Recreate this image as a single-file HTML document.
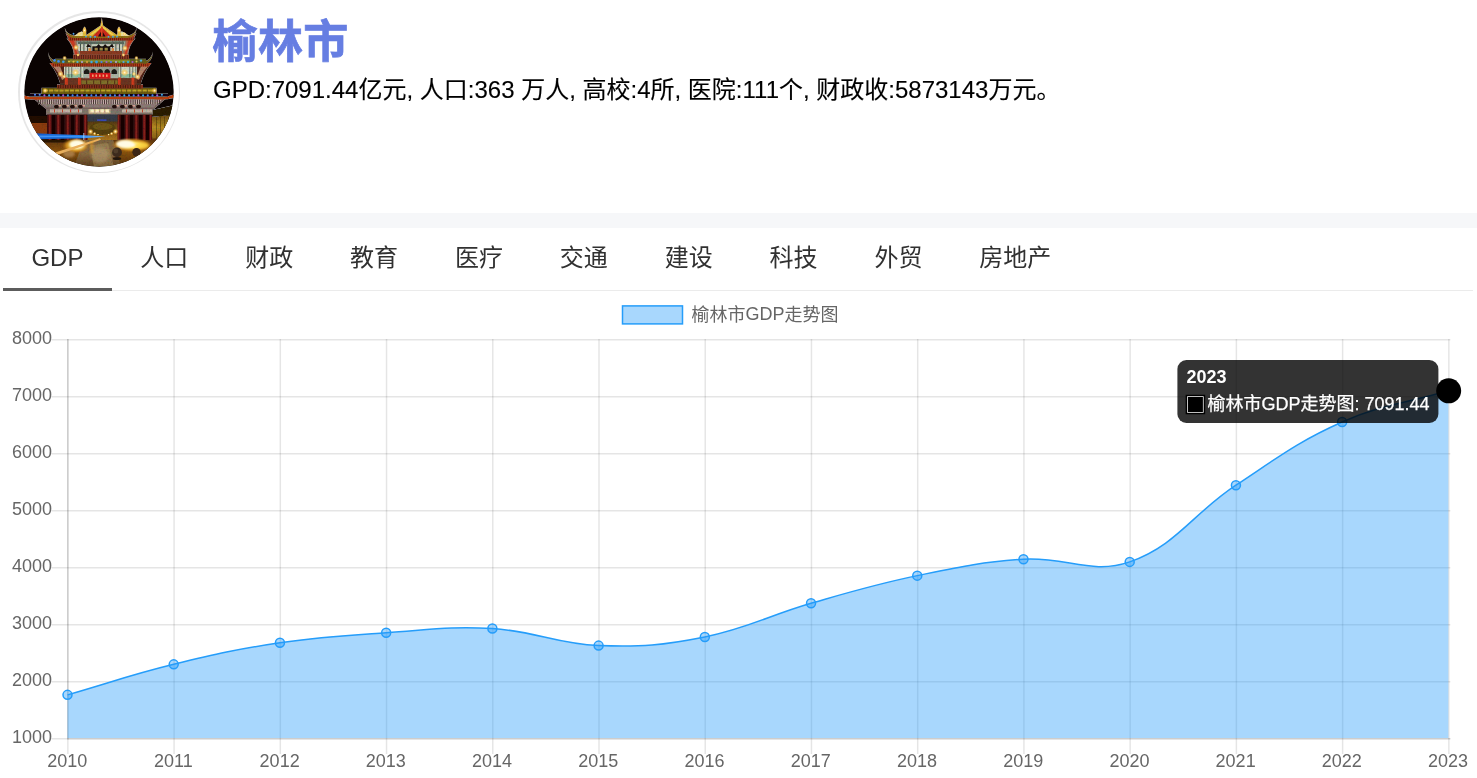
<!DOCTYPE html>
<html lang="zh-CN">
<head>
<meta charset="utf-8">
<title>榆林市</title>
<style>
html,body{margin:0;padding:0;}
body{width:1477px;height:778px;overflow:hidden;background:#fff;position:relative;font-family:"Liberation Sans","Noto Sans CJK SC",sans-serif;}
.avatar{position:absolute;left:18px;top:11px;width:162px;height:162px;border-radius:50%;background:#e6e6e6;}
.avatar .ring{position:absolute;left:1.5px;top:1.5px;width:159px;height:159px;border-radius:50%;background:#fff;}
.avatar svg{position:absolute;left:6px;top:6px;width:150px;height:150px;border-radius:50%;display:block;}
.title{position:absolute;left:212.5px;top:11.2px;margin:0;font-size:45px;line-height:64px;font-weight:bold;color:#667ee2;white-space:nowrap;-webkit-text-stroke:0.7px #667ee2;letter-spacing:0.4px;}
.sub{position:absolute;left:213px;top:72px;margin:0;font-size:24px;line-height:36px;color:#000;white-space:nowrap;-webkit-text-stroke:0.12px #000;}
.band{position:absolute;left:0;top:213px;width:1477px;height:15px;background:#f6f7f9;}
.tabs{position:absolute;left:3px;top:228px;width:1470px;height:62px;border-bottom:1.5px solid #ebebeb;display:flex;}
.tab{box-sizing:border-box;height:63px;padding:0 28.45px;font-size:24px;line-height:60.6px;color:#313131;white-space:nowrap;}
.tab.on{border-bottom:3px solid #5c5c5c;}
.chart{position:absolute;left:0;top:0;}
</style>
</head>
<body>
<div class="avatar"><div class="ring"></div><svg viewBox="0 0 150 150">
<defs>
<clipPath id="avc"><circle cx="75" cy="75" r="74.7"/></clipPath>
<filter id="b05" x="-20%" y="-20%" width="140%" height="140%"><feGaussianBlur stdDeviation="0.45"/></filter>
<filter id="b1" x="-20%" y="-20%" width="140%" height="140%"><feGaussianBlur stdDeviation="0.8"/></filter>
<filter id="b2" x="-30%" y="-30%" width="160%" height="160%"><feGaussianBlur stdDeviation="1.8"/></filter>
<filter id="tex" x="0" y="0" width="100%" height="100%"><feTurbulence type="fractalNoise" baseFrequency="0.55" numOctaves="2" seed="3" result="n"/><feColorMatrix in="n" type="matrix" values="1.0 0 0 0 0.5  0 1.0 0 0 0.48  0 0 1.0 0 0.48  0 0 0 0 1" result="n2"/><feBlend in="SourceGraphic" in2="n2" mode="multiply" result="m"/><feComposite in="m" in2="SourceGraphic" operator="in"/></filter>
<linearGradient id="gnd" x1="0" y1="0" x2="0" y2="1"><stop offset="0" stop-color="#5a3208"/><stop offset="0.45" stop-color="#8a5410"/><stop offset="1" stop-color="#4a2a08"/></linearGradient>
<linearGradient id="path" x1="0" y1="0" x2="0" y2="1"><stop offset="0" stop-color="#7a6240"/><stop offset="0.5" stop-color="#8a6c44"/><stop offset="1" stop-color="#5a3e1c"/></linearGradient>
<linearGradient id="blu" x1="0" y1="0" x2="1" y2="0"><stop offset="0" stop-color="#1258c8"/><stop offset="0.65" stop-color="#2383ee"/><stop offset="1" stop-color="#8cc4ff"/></linearGradient>
<radialGradient id="glow"><stop offset="0" stop-color="#fffdf0"/><stop offset="0.35" stop-color="#ffe46a"/><stop offset="0.7" stop-color="#e8a020" stop-opacity="0.7"/><stop offset="1" stop-color="#a86410" stop-opacity="0"/></radialGradient>
<radialGradient id="lamp"><stop offset="0" stop-color="#fffbe0"/><stop offset="0.4" stop-color="#ffd468" stop-opacity="0.85"/><stop offset="1" stop-color="#ffb030" stop-opacity="0"/></radialGradient>
<linearGradient id="gate" x1="0" y1="0" x2="0" y2="1"><stop offset="0" stop-color="#2e2410"/><stop offset="0.45" stop-color="#6a4812"/><stop offset="1" stop-color="#a8741c"/></linearGradient>
<linearGradient id="gold" x1="0" y1="0" x2="0" y2="1"><stop offset="0" stop-color="#7a6612"/><stop offset="0.4" stop-color="#bca428"/><stop offset="1" stop-color="#6a560e"/></linearGradient>
<linearGradient id="rwall" x1="0" y1="0" x2="0" y2="1"><stop offset="0" stop-color="#6a4c10"/><stop offset="0.5" stop-color="#b48a22"/><stop offset="1" stop-color="#7a5612"/></linearGradient>
</defs>
<g clip-path="url(#avc)">
<rect width="150" height="150" fill="#0a0302"/>
<g filter="url(#tex)">
<g filter="url(#b05)">
<rect x="2" y="105" width="22" height="12" fill="#8a3a0a"/>
<rect x="0" y="99" width="24" height="7" fill="#241006"/>
<polygon points="128,100 150,97 150,124 128,124" fill="url(#rwall)"/>
<polygon points="128,93 150,88 150,98 128,100" fill="#2a1a06"/>
<rect x="132" y="100" width="0.8" height="24" fill="#4a3408" opacity="0.7"/>
<rect x="136" y="100" width="0.8" height="24" fill="#4a3408" opacity="0.7"/>
<rect x="140" y="100" width="0.8" height="24" fill="#4a3408" opacity="0.7"/>
<rect x="144" y="100" width="0.8" height="24" fill="#4a3408" opacity="0.7"/>
<rect x="0" y="121.5" width="150" height="29" fill="url(#gnd)"/>
<polygon points="60,122 89,122 97,150 50,150" fill="url(#path)"/>
<polygon points="66,128 84,126 90,150 70,150" fill="#a8905c" opacity="0.5"/>
<rect x="15" y="122" width="45" height="3.5" fill="#2a1606"/>
<rect x="23" y="96" width="105" height="27" fill="#3a0a0a"/>
<rect x="28" y="98" width="3.4" height="25" fill="#180404"/>
<rect x="37" y="98" width="3.4" height="25" fill="#180404"/>
<rect x="47" y="98" width="3.4" height="25" fill="#180404"/>
<rect x="56" y="98" width="3.4" height="25" fill="#180404"/>
<rect x="97" y="98" width="3.4" height="25" fill="#180404"/>
<rect x="106" y="98" width="3.4" height="25" fill="#180404"/>
<rect x="115" y="98" width="3.4" height="25" fill="#180404"/>
<rect x="122" y="98" width="3.4" height="25" fill="#180404"/>
<rect x="24.5" y="98" width="2.6" height="25" fill="#6c1612"/>
<rect x="33.0" y="98" width="2.6" height="25" fill="#6c1612"/>
<rect x="42.5" y="98" width="2.6" height="25" fill="#6c1612"/>
<rect x="51.5" y="98" width="2.6" height="25" fill="#6c1612"/>
<rect x="60.0" y="98" width="2.6" height="25" fill="#6c1612"/>
<rect x="93.0" y="98" width="2.6" height="25" fill="#6c1612"/>
<rect x="101.5" y="98" width="2.6" height="25" fill="#6c1612"/>
<rect x="111.0" y="98" width="2.6" height="25" fill="#6c1612"/>
<rect x="119.0" y="98" width="2.6" height="25" fill="#6c1612"/>
<rect x="125.3" y="98" width="2.6" height="25" fill="#6c1612"/>
<rect x="25.3" y="98" width="0.9" height="25" fill="#8c2a1e"/>
<rect x="33.8" y="98" width="0.9" height="25" fill="#8c2a1e"/>
<rect x="43.3" y="98" width="0.9" height="25" fill="#8c2a1e"/>
<rect x="52.3" y="98" width="0.9" height="25" fill="#8c2a1e"/>
<rect x="60.9" y="98" width="0.9" height="25" fill="#8c2a1e"/>
<rect x="93.9" y="98" width="0.9" height="25" fill="#8c2a1e"/>
<rect x="102.3" y="98" width="0.9" height="25" fill="#8c2a1e"/>
<rect x="111.8" y="98" width="0.9" height="25" fill="#8c2a1e"/>
<rect x="119.8" y="98" width="0.9" height="25" fill="#8c2a1e"/>
<rect x="126.0" y="98" width="0.9" height="25" fill="#8c2a1e"/>
<rect x="63.5" y="97" width="30" height="26" fill="url(#gate)"/>
<rect x="63.5" y="97" width="30" height="7.5" fill="#343a46"/>
<rect x="73" y="102.3" width="9.5" height="1.7" fill="#3848b0"/>
<ellipse cx="78.5" cy="111.5" rx="13" ry="6.5" fill="#55400e"/>
<ellipse cx="78.5" cy="109.5" rx="10" ry="3.5" fill="#6e5616"/>
<rect x="22" y="91" width="107" height="6.5" fill="#7e746a"/>
<rect x="26" y="92.3" width="32" height="3.2" fill="#bfb2a4"/><rect x="98" y="92.3" width="30" height="3.2" fill="#bfb2a4"/>
<rect x="30" y="92.3" width="1" height="3.2" fill="#c8442a"/>
<rect x="38" y="92.3" width="1" height="3.2" fill="#c8442a"/>
<rect x="46" y="92.3" width="1" height="3.2" fill="#c8442a"/>
<rect x="54" y="92.3" width="1" height="3.2" fill="#c8442a"/>
<rect x="102" y="92.3" width="1" height="3.2" fill="#c8442a"/>
<rect x="110" y="92.3" width="1" height="3.2" fill="#c8442a"/>
<rect x="118" y="92.3" width="1" height="3.2" fill="#c8442a"/>
<rect x="64.5" y="91.3" width="22" height="5.4" fill="#c8b48a"/>
<rect x="66.5" y="92.4" width="3.4" height="3" fill="#fff4c8"/>
<rect x="71.5" y="92.4" width="3.4" height="3" fill="#fff4c8"/>
<rect x="76.5" y="92.4" width="3.4" height="3" fill="#fff4c8"/>
<rect x="81.5" y="92.4" width="3.4" height="3" fill="#fff4c8"/>
<polygon points="9,81.5 142,81.5 130,92 22,92" fill="#76625c"/>
<polygon points="13,82.6 138,82.6 133,87.4 18,87.4" fill="#c4b0aa"/>
<rect x="14.0" y="82.6" width="0.9" height="4.8" fill="#3a2a28"/>
<rect x="16.2" y="82.6" width="0.9" height="4.8" fill="#3a2a28"/>
<rect x="18.4" y="82.6" width="0.9" height="4.8" fill="#3a2a28"/>
<rect x="20.6" y="82.6" width="0.9" height="4.8" fill="#3a2a28"/>
<rect x="22.8" y="82.6" width="0.9" height="4.8" fill="#3a2a28"/>
<rect x="25.0" y="82.6" width="0.9" height="4.8" fill="#3a2a28"/>
<rect x="27.2" y="82.6" width="0.9" height="4.8" fill="#3a2a28"/>
<rect x="29.4" y="82.6" width="0.9" height="4.8" fill="#3a2a28"/>
<rect x="31.6" y="82.6" width="0.9" height="4.8" fill="#3a2a28"/>
<rect x="33.8" y="82.6" width="0.9" height="4.8" fill="#3a2a28"/>
<rect x="36.0" y="82.6" width="0.9" height="4.8" fill="#3a2a28"/>
<rect x="38.2" y="82.6" width="0.9" height="4.8" fill="#3a2a28"/>
<rect x="40.4" y="82.6" width="0.9" height="4.8" fill="#3a2a28"/>
<rect x="42.6" y="82.6" width="0.9" height="4.8" fill="#3a2a28"/>
<rect x="44.8" y="82.6" width="0.9" height="4.8" fill="#3a2a28"/>
<rect x="47.0" y="82.6" width="0.9" height="4.8" fill="#3a2a28"/>
<rect x="49.2" y="82.6" width="0.9" height="4.8" fill="#3a2a28"/>
<rect x="51.4" y="82.6" width="0.9" height="4.8" fill="#3a2a28"/>
<rect x="53.6" y="82.6" width="0.9" height="4.8" fill="#3a2a28"/>
<rect x="55.8" y="82.6" width="0.9" height="4.8" fill="#3a2a28"/>
<rect x="58.0" y="82.6" width="0.9" height="4.8" fill="#3a2a28"/>
<rect x="60.2" y="82.6" width="0.9" height="4.8" fill="#3a2a28"/>
<rect x="62.4" y="82.6" width="0.9" height="4.8" fill="#3a2a28"/>
<rect x="64.6" y="82.6" width="0.9" height="4.8" fill="#3a2a28"/>
<rect x="66.8" y="82.6" width="0.9" height="4.8" fill="#3a2a28"/>
<rect x="69.0" y="82.6" width="0.9" height="4.8" fill="#3a2a28"/>
<rect x="71.2" y="82.6" width="0.9" height="4.8" fill="#3a2a28"/>
<rect x="73.4" y="82.6" width="0.9" height="4.8" fill="#3a2a28"/>
<rect x="75.6" y="82.6" width="0.9" height="4.8" fill="#3a2a28"/>
<rect x="77.8" y="82.6" width="0.9" height="4.8" fill="#3a2a28"/>
<rect x="80.0" y="82.6" width="0.9" height="4.8" fill="#3a2a28"/>
<rect x="82.2" y="82.6" width="0.9" height="4.8" fill="#3a2a28"/>
<rect x="84.4" y="82.6" width="0.9" height="4.8" fill="#3a2a28"/>
<rect x="86.6" y="82.6" width="0.9" height="4.8" fill="#3a2a28"/>
<rect x="88.8" y="82.6" width="0.9" height="4.8" fill="#3a2a28"/>
<rect x="91.0" y="82.6" width="0.9" height="4.8" fill="#3a2a28"/>
<rect x="93.2" y="82.6" width="0.9" height="4.8" fill="#3a2a28"/>
<rect x="95.4" y="82.6" width="0.9" height="4.8" fill="#3a2a28"/>
<rect x="97.6" y="82.6" width="0.9" height="4.8" fill="#3a2a28"/>
<rect x="99.8" y="82.6" width="0.9" height="4.8" fill="#3a2a28"/>
<rect x="102.0" y="82.6" width="0.9" height="4.8" fill="#3a2a28"/>
<rect x="104.2" y="82.6" width="0.9" height="4.8" fill="#3a2a28"/>
<rect x="106.4" y="82.6" width="0.9" height="4.8" fill="#3a2a28"/>
<rect x="108.6" y="82.6" width="0.9" height="4.8" fill="#3a2a28"/>
<rect x="110.8" y="82.6" width="0.9" height="4.8" fill="#3a2a28"/>
<rect x="113.0" y="82.6" width="0.9" height="4.8" fill="#3a2a28"/>
<rect x="115.2" y="82.6" width="0.9" height="4.8" fill="#3a2a28"/>
<rect x="117.4" y="82.6" width="0.9" height="4.8" fill="#3a2a28"/>
<rect x="119.6" y="82.6" width="0.9" height="4.8" fill="#3a2a28"/>
<rect x="121.8" y="82.6" width="0.9" height="4.8" fill="#3a2a28"/>
<rect x="124.0" y="82.6" width="0.9" height="4.8" fill="#3a2a28"/>
<rect x="126.2" y="82.6" width="0.9" height="4.8" fill="#3a2a28"/>
<rect x="128.4" y="82.6" width="0.9" height="4.8" fill="#3a2a28"/>
<rect x="130.6" y="82.6" width="0.9" height="4.8" fill="#3a2a28"/>
<rect x="132.8" y="82.6" width="0.9" height="4.8" fill="#3a2a28"/>
<rect x="135.0" y="82.6" width="0.9" height="4.8" fill="#3a2a28"/>
<polygon points="19,87.4 132,87.4 130,90.5 22,90.5" fill="#8a7a74"/>
<rect x="30" y="88" width="5" height="3.2" rx="1.6" fill="#241008"/>
<rect x="38" y="88" width="5" height="3.2" rx="1.6" fill="#241008"/>
<rect x="46" y="88" width="5" height="3.2" rx="1.6" fill="#241008"/>
<rect x="54" y="88" width="5" height="3.2" rx="1.6" fill="#241008"/>
<rect x="88" y="88" width="5" height="3.2" rx="1.6" fill="#241008"/>
<rect x="96" y="88" width="5" height="3.2" rx="1.6" fill="#241008"/>
<rect x="104" y="88" width="5" height="3.2" rx="1.6" fill="#241008"/>
<rect x="112" y="88" width="5" height="3.2" rx="1.6" fill="#241008"/>
<rect x="34.5" y="88" width="2.5" height="1.5" fill="#d8a090"/>
<rect x="42.5" y="88" width="2.5" height="1.5" fill="#d8a090"/>
<rect x="50.5" y="88" width="2.5" height="1.5" fill="#d8a090"/>
<rect x="58.5" y="88" width="2.5" height="1.5" fill="#d8a090"/>
<rect x="92.5" y="88" width="2.5" height="1.5" fill="#d8a090"/>
<rect x="100.5" y="88" width="2.5" height="1.5" fill="#d8a090"/>
<rect x="108.5" y="88" width="2.5" height="1.5" fill="#d8a090"/>
<path d="M0,78.5 Q10,81 20,79.6 L130,79.6 Q140,81 150,77.5 L150,81 Q140,83.4 130,82 L20,82 Q10,83.4 0,82 Z" fill="#b8400e"/>
<rect x="6" y="76.6" width="138" height="3.2" fill="#100616"/>
<rect x="17.5" y="70.8" width="115" height="6.2" fill="#6a5a10"/>
<rect x="21" y="72" width="108" height="3.8" fill="url(#gold)"/>
<rect x="24.0" y="72.2" width="1.1" height="3.4" fill="#5a4a0c" opacity="0.8"/>
<rect x="29.2" y="72.2" width="1.1" height="3.4" fill="#5a4a0c" opacity="0.8"/>
<rect x="34.4" y="72.2" width="1.1" height="3.4" fill="#5a4a0c" opacity="0.8"/>
<rect x="39.6" y="72.2" width="1.1" height="3.4" fill="#5a4a0c" opacity="0.8"/>
<rect x="44.8" y="72.2" width="1.1" height="3.4" fill="#5a4a0c" opacity="0.8"/>
<rect x="50.0" y="72.2" width="1.1" height="3.4" fill="#5a4a0c" opacity="0.8"/>
<rect x="55.2" y="72.2" width="1.1" height="3.4" fill="#5a4a0c" opacity="0.8"/>
<rect x="60.4" y="72.2" width="1.1" height="3.4" fill="#5a4a0c" opacity="0.8"/>
<rect x="65.6" y="72.2" width="1.1" height="3.4" fill="#5a4a0c" opacity="0.8"/>
<rect x="70.8" y="72.2" width="1.1" height="3.4" fill="#5a4a0c" opacity="0.8"/>
<rect x="76.0" y="72.2" width="1.1" height="3.4" fill="#5a4a0c" opacity="0.8"/>
<rect x="81.2" y="72.2" width="1.1" height="3.4" fill="#5a4a0c" opacity="0.8"/>
<rect x="86.4" y="72.2" width="1.1" height="3.4" fill="#5a4a0c" opacity="0.8"/>
<rect x="91.6" y="72.2" width="1.1" height="3.4" fill="#5a4a0c" opacity="0.8"/>
<rect x="96.8" y="72.2" width="1.1" height="3.4" fill="#5a4a0c" opacity="0.8"/>
<rect x="102.0" y="72.2" width="1.1" height="3.4" fill="#5a4a0c" opacity="0.8"/>
<rect x="107.2" y="72.2" width="1.1" height="3.4" fill="#5a4a0c" opacity="0.8"/>
<rect x="112.4" y="72.2" width="1.1" height="3.4" fill="#5a4a0c" opacity="0.8"/>
<rect x="117.6" y="72.2" width="1.1" height="3.4" fill="#5a4a0c" opacity="0.8"/>
<rect x="122.8" y="72.2" width="1.1" height="3.4" fill="#5a4a0c" opacity="0.8"/>
<rect x="33" y="67.3" width="86" height="4.2" fill="#84301a"/>
<rect x="34.0" y="67.6" width="0.7" height="3.6" fill="#3a140a"/>
<rect x="36.4" y="67.6" width="0.7" height="3.6" fill="#3a140a"/>
<rect x="38.8" y="67.6" width="0.7" height="3.6" fill="#3a140a"/>
<rect x="41.2" y="67.6" width="0.7" height="3.6" fill="#3a140a"/>
<rect x="43.6" y="67.6" width="0.7" height="3.6" fill="#3a140a"/>
<rect x="46.0" y="67.6" width="0.7" height="3.6" fill="#3a140a"/>
<rect x="48.4" y="67.6" width="0.7" height="3.6" fill="#3a140a"/>
<rect x="50.8" y="67.6" width="0.7" height="3.6" fill="#3a140a"/>
<rect x="53.2" y="67.6" width="0.7" height="3.6" fill="#3a140a"/>
<rect x="55.6" y="67.6" width="0.7" height="3.6" fill="#3a140a"/>
<rect x="58.0" y="67.6" width="0.7" height="3.6" fill="#3a140a"/>
<rect x="60.4" y="67.6" width="0.7" height="3.6" fill="#3a140a"/>
<rect x="62.8" y="67.6" width="0.7" height="3.6" fill="#3a140a"/>
<rect x="65.2" y="67.6" width="0.7" height="3.6" fill="#3a140a"/>
<rect x="67.6" y="67.6" width="0.7" height="3.6" fill="#3a140a"/>
<rect x="70.0" y="67.6" width="0.7" height="3.6" fill="#3a140a"/>
<rect x="72.4" y="67.6" width="0.7" height="3.6" fill="#3a140a"/>
<rect x="74.8" y="67.6" width="0.7" height="3.6" fill="#3a140a"/>
<rect x="77.2" y="67.6" width="0.7" height="3.6" fill="#3a140a"/>
<rect x="79.6" y="67.6" width="0.7" height="3.6" fill="#3a140a"/>
<rect x="82.0" y="67.6" width="0.7" height="3.6" fill="#3a140a"/>
<rect x="84.4" y="67.6" width="0.7" height="3.6" fill="#3a140a"/>
<rect x="86.8" y="67.6" width="0.7" height="3.6" fill="#3a140a"/>
<rect x="89.2" y="67.6" width="0.7" height="3.6" fill="#3a140a"/>
<rect x="91.6" y="67.6" width="0.7" height="3.6" fill="#3a140a"/>
<rect x="94.0" y="67.6" width="0.7" height="3.6" fill="#3a140a"/>
<rect x="96.4" y="67.6" width="0.7" height="3.6" fill="#3a140a"/>
<rect x="98.8" y="67.6" width="0.7" height="3.6" fill="#3a140a"/>
<rect x="101.2" y="67.6" width="0.7" height="3.6" fill="#3a140a"/>
<rect x="103.6" y="67.6" width="0.7" height="3.6" fill="#3a140a"/>
<rect x="106.0" y="67.6" width="0.7" height="3.6" fill="#3a140a"/>
<rect x="108.4" y="67.6" width="0.7" height="3.6" fill="#3a140a"/>
<rect x="110.8" y="67.6" width="0.7" height="3.6" fill="#3a140a"/>
<rect x="113.2" y="67.6" width="0.7" height="3.6" fill="#3a140a"/>
<rect x="115.6" y="67.6" width="0.7" height="3.6" fill="#3a140a"/>
<rect x="36" y="49" width="81" height="19" fill="#4e3224"/>
<rect x="37" y="49" width="79" height="12.5" fill="#7e8c7a"/>
<rect x="40" y="50" width="19" height="10.5" fill="#cdd6c0"/><rect x="95" y="50" width="19" height="10.5" fill="#cdd6c0"/>
<rect x="43" y="57" width="14" height="3.4" fill="#8ac0a0"/><rect x="97" y="57" width="14" height="3.4" fill="#8ac0a0"/>
<rect x="41.5" y="50" width="0.7" height="10.5" fill="#3a4436"/>
<rect x="44.5" y="50" width="0.7" height="10.5" fill="#3a4436"/>
<rect x="47.5" y="50" width="0.7" height="10.5" fill="#3a4436"/>
<rect x="56.5" y="50" width="0.7" height="10.5" fill="#3a4436"/>
<rect x="96.5" y="50" width="0.7" height="10.5" fill="#3a4436"/>
<rect x="105.5" y="50" width="0.7" height="10.5" fill="#3a4436"/>
<rect x="108.5" y="50" width="0.7" height="10.5" fill="#3a4436"/>
<rect x="111.5" y="50" width="0.7" height="10.5" fill="#3a4436"/>
<rect x="59" y="50" width="36" height="11.5" fill="#9aa294"/>
<path d="M60.0,57 v-3 q2.7,-4 5.4,0 v3z" fill="#1e1a14"/>
<path d="M66.5,57 v-3 q2.7,-4 5.4,0 v3z" fill="#1e1a14"/>
<path d="M73.5,57 v-3 q2.7,-4 5.4,0 v3z" fill="#1e1a14"/>
<path d="M80.5,57 v-3 q2.7,-4 5.4,0 v3z" fill="#1e1a14"/>
<path d="M87.5,57 v-3 q2.7,-4 5.4,0 v3z" fill="#1e1a14"/>
<rect x="59" y="57" width="36" height="4.6" fill="#a8b4a4"/>
<rect x="40" y="61.3" width="73" height="6.6" fill="#6a3420"/>
<rect x="41.0" y="60.6" width="2.8" height="7.2" fill="#d03a1e"/>
<rect x="54.0" y="60.6" width="2.8" height="7.2" fill="#d03a1e"/>
<rect x="94.0" y="60.6" width="2.8" height="7.2" fill="#d03a1e"/>
<rect x="107.5" y="60.6" width="2.8" height="7.2" fill="#d03a1e"/>
<rect x="57.5" y="63.3" width="36" height="3.8" fill="#80702c"/>
<rect x="62" y="63.3" width="1.2" height="3.8" fill="#5a3418"/>
<rect x="69" y="63.3" width="1.2" height="3.8" fill="#5a3418"/>
<rect x="76" y="63.3" width="1.2" height="3.8" fill="#5a3418"/>
<rect x="83" y="63.3" width="1.2" height="3.8" fill="#5a3418"/>
<rect x="90" y="63.3" width="1.2" height="3.8" fill="#5a3418"/>
<rect x="65.5" y="55.8" width="21" height="5.8" fill="#d81818"/>
<rect x="68.0" y="57.5" width="1.6" height="2.4" fill="#f0a070"/>
<rect x="71.5" y="57.5" width="1.6" height="2.4" fill="#f0a070"/>
<rect x="75.0" y="57.5" width="1.6" height="2.4" fill="#f0a070"/>
<rect x="78.5" y="57.5" width="1.6" height="2.4" fill="#f0a070"/>
<rect x="82.0" y="57.5" width="1.6" height="2.4" fill="#f0a070"/>
<path d="M27,48 L40,49 L40,66 L36,66 Q33,56 27,48Z" fill="#4e2012"/>
<path d="M126,48 L113,49 L113,66 L117,66 Q120,56 126,48Z" fill="#4e2012"/>
<path d="M28,48.5 L36,49 Q39,56 40,62 L38,63 Q35,55 28,48.5Z" fill="#b4846a"/>
<path d="M125,48.5 L117,49 Q114,56 113,62 L115,63 Q118,55 125,48.5Z" fill="#b4846a"/>
<path d="M25.5,46 L127.5,46 L125,49.6 L28,49.6 Z" fill="#b43c18"/>
<rect x="29.0" y="46.6" width="0.7" height="3" fill="#5a1a0a"/>
<rect x="31.1" y="46.6" width="0.7" height="3" fill="#5a1a0a"/>
<rect x="33.2" y="46.6" width="0.7" height="3" fill="#5a1a0a"/>
<rect x="35.3" y="46.6" width="0.7" height="3" fill="#5a1a0a"/>
<rect x="37.4" y="46.6" width="0.7" height="3" fill="#5a1a0a"/>
<rect x="39.5" y="46.6" width="0.7" height="3" fill="#5a1a0a"/>
<rect x="41.6" y="46.6" width="0.7" height="3" fill="#5a1a0a"/>
<rect x="43.7" y="46.6" width="0.7" height="3" fill="#5a1a0a"/>
<rect x="45.8" y="46.6" width="0.7" height="3" fill="#5a1a0a"/>
<rect x="47.9" y="46.6" width="0.7" height="3" fill="#5a1a0a"/>
<rect x="50.0" y="46.6" width="0.7" height="3" fill="#5a1a0a"/>
<rect x="52.1" y="46.6" width="0.7" height="3" fill="#5a1a0a"/>
<rect x="54.2" y="46.6" width="0.7" height="3" fill="#5a1a0a"/>
<rect x="56.3" y="46.6" width="0.7" height="3" fill="#5a1a0a"/>
<rect x="58.4" y="46.6" width="0.7" height="3" fill="#5a1a0a"/>
<rect x="60.5" y="46.6" width="0.7" height="3" fill="#5a1a0a"/>
<rect x="62.6" y="46.6" width="0.7" height="3" fill="#5a1a0a"/>
<rect x="64.7" y="46.6" width="0.7" height="3" fill="#5a1a0a"/>
<rect x="66.8" y="46.6" width="0.7" height="3" fill="#5a1a0a"/>
<rect x="68.9" y="46.6" width="0.7" height="3" fill="#5a1a0a"/>
<rect x="71.0" y="46.6" width="0.7" height="3" fill="#5a1a0a"/>
<rect x="73.1" y="46.6" width="0.7" height="3" fill="#5a1a0a"/>
<rect x="75.2" y="46.6" width="0.7" height="3" fill="#5a1a0a"/>
<rect x="77.3" y="46.6" width="0.7" height="3" fill="#5a1a0a"/>
<rect x="79.4" y="46.6" width="0.7" height="3" fill="#5a1a0a"/>
<rect x="81.5" y="46.6" width="0.7" height="3" fill="#5a1a0a"/>
<rect x="83.6" y="46.6" width="0.7" height="3" fill="#5a1a0a"/>
<rect x="85.7" y="46.6" width="0.7" height="3" fill="#5a1a0a"/>
<rect x="87.8" y="46.6" width="0.7" height="3" fill="#5a1a0a"/>
<rect x="89.9" y="46.6" width="0.7" height="3" fill="#5a1a0a"/>
<rect x="92.0" y="46.6" width="0.7" height="3" fill="#5a1a0a"/>
<rect x="94.1" y="46.6" width="0.7" height="3" fill="#5a1a0a"/>
<rect x="96.2" y="46.6" width="0.7" height="3" fill="#5a1a0a"/>
<rect x="98.3" y="46.6" width="0.7" height="3" fill="#5a1a0a"/>
<rect x="100.4" y="46.6" width="0.7" height="3" fill="#5a1a0a"/>
<rect x="102.5" y="46.6" width="0.7" height="3" fill="#5a1a0a"/>
<rect x="104.6" y="46.6" width="0.7" height="3" fill="#5a1a0a"/>
<rect x="106.7" y="46.6" width="0.7" height="3" fill="#5a1a0a"/>
<rect x="108.8" y="46.6" width="0.7" height="3" fill="#5a1a0a"/>
<rect x="110.9" y="46.6" width="0.7" height="3" fill="#5a1a0a"/>
<rect x="113.0" y="46.6" width="0.7" height="3" fill="#5a1a0a"/>
<rect x="115.1" y="46.6" width="0.7" height="3" fill="#5a1a0a"/>
<rect x="117.2" y="46.6" width="0.7" height="3" fill="#5a1a0a"/>
<rect x="119.3" y="46.6" width="0.7" height="3" fill="#5a1a0a"/>
<rect x="121.4" y="46.6" width="0.7" height="3" fill="#5a1a0a"/>
<rect x="123.5" y="46.6" width="0.7" height="3" fill="#5a1a0a"/>
<rect x="31" y="41.8" width="91" height="4.6" fill="#5e5e22"/>
<rect x="46" y="42.6" width="60" height="2.6" fill="#8a8a2a"/>
<path d="M24.2,35 Q25.5,43 33,44.2 L33,47.2 Q24.5,46 24.2,35Z" fill="#6e5e18"/>
<path d="M128.8,34.5 Q127.5,43 120,44.2 L120,47.2 Q128.5,46 128.8,34.5Z" fill="#6e5e18"/>
<rect x="49" y="37.6" width="56" height="4.6" fill="#8e3c26"/>
<rect x="50.0" y="38" width="0.7" height="4" fill="#40160c"/>
<rect x="52.3" y="38" width="0.7" height="4" fill="#40160c"/>
<rect x="54.6" y="38" width="0.7" height="4" fill="#40160c"/>
<rect x="56.9" y="38" width="0.7" height="4" fill="#40160c"/>
<rect x="59.2" y="38" width="0.7" height="4" fill="#40160c"/>
<rect x="61.5" y="38" width="0.7" height="4" fill="#40160c"/>
<rect x="63.8" y="38" width="0.7" height="4" fill="#40160c"/>
<rect x="66.1" y="38" width="0.7" height="4" fill="#40160c"/>
<rect x="68.4" y="38" width="0.7" height="4" fill="#40160c"/>
<rect x="70.7" y="38" width="0.7" height="4" fill="#40160c"/>
<rect x="73.0" y="38" width="0.7" height="4" fill="#40160c"/>
<rect x="75.3" y="38" width="0.7" height="4" fill="#40160c"/>
<rect x="77.6" y="38" width="0.7" height="4" fill="#40160c"/>
<rect x="79.9" y="38" width="0.7" height="4" fill="#40160c"/>
<rect x="82.2" y="38" width="0.7" height="4" fill="#40160c"/>
<rect x="84.5" y="38" width="0.7" height="4" fill="#40160c"/>
<rect x="86.8" y="38" width="0.7" height="4" fill="#40160c"/>
<rect x="89.1" y="38" width="0.7" height="4" fill="#40160c"/>
<rect x="91.4" y="38" width="0.7" height="4" fill="#40160c"/>
<rect x="93.7" y="38" width="0.7" height="4" fill="#40160c"/>
<rect x="96.0" y="38" width="0.7" height="4" fill="#40160c"/>
<rect x="98.3" y="38" width="0.7" height="4" fill="#40160c"/>
<rect x="100.6" y="38" width="0.7" height="4" fill="#40160c"/>
<rect x="102.9" y="38" width="0.7" height="4" fill="#40160c"/>
<rect x="50" y="23" width="54" height="15" fill="#768274"/>
<rect x="53.5" y="24.5" width="47" height="9.5" fill="#c6ccbc"/>
<rect x="56.0" y="24.5" width="0.8" height="9.5" fill="#2e3a30"/>
<rect x="59.5" y="24.5" width="0.8" height="9.5" fill="#2e3a30"/>
<rect x="63.0" y="24.5" width="0.8" height="9.5" fill="#2e3a30"/>
<rect x="66.5" y="24.5" width="0.8" height="9.5" fill="#2e3a30"/>
<rect x="88.0" y="24.5" width="0.8" height="9.5" fill="#2e3a30"/>
<rect x="91.5" y="24.5" width="0.8" height="9.5" fill="#2e3a30"/>
<rect x="95.0" y="24.5" width="0.8" height="9.5" fill="#2e3a30"/>
<rect x="98.5" y="24.5" width="0.8" height="9.5" fill="#2e3a30"/>
<rect x="54" y="24.5" width="46" height="2.6" fill="#5a6a5c"/>
<path d="M62.0,30 l2.6,-3 l2.6,3z" fill="#14100a"/>
<path d="M72.0,30 l2.6,-3 l2.6,3z" fill="#14100a"/>
<path d="M78.5,30 l2.6,-3 l2.6,3z" fill="#14100a"/>
<path d="M85.0,30 l2.6,-3 l2.6,3z" fill="#14100a"/>
<rect x="68.3" y="29.3" width="18" height="5.8" fill="#15100a"/>
<rect x="70.6" y="30.8" width="3.2" height="2.8" fill="#a08a4a"/>
<rect x="75.6" y="30.8" width="3.2" height="2.8" fill="#a08a4a"/>
<rect x="80.6" y="30.8" width="3.2" height="2.8" fill="#a08a4a"/>
<rect x="64.5" y="31.2" width="2.4" height="3" fill="#e08a40"/><rect x="87.6" y="31.2" width="2.4" height="3" fill="#e08a40"/>
<rect x="56" y="34" width="42" height="3.8" fill="#8a3a22"/>
<path d="M42.5,21.5 L52,23 Q53,32 56,38 L50,38 Q49,28 42.5,21.5Z" fill="#b06a50"/>
<path d="M111.5,21.5 L102,23 Q101,32 98,38 L104,38 Q105,28 111.5,21.5Z" fill="#b06a50"/>
<path d="M44.5,22.5 L50,23.2 Q51,31 53.5,37 L51.5,37.4 Q50,29 44.5,22.5Z" fill="#c83a20"/>
<path d="M109.5,22.5 L104,23.2 Q103,31 100.5,37 L102.5,37.4 Q104,29 109.5,22.5Z" fill="#c83a20"/>
<path d="M41.5,16 Q45,19.6 50,19.8 L104,19.8 Q109,19.6 112.5,16 L109,23.6 L45,23.6Z" fill="#a8381a"/>
<rect x="46.0" y="20.6" width="0.7" height="2.8" fill="#4e160a"/>
<rect x="48.1" y="20.6" width="0.7" height="2.8" fill="#4e160a"/>
<rect x="50.2" y="20.6" width="0.7" height="2.8" fill="#4e160a"/>
<rect x="52.3" y="20.6" width="0.7" height="2.8" fill="#4e160a"/>
<rect x="54.4" y="20.6" width="0.7" height="2.8" fill="#4e160a"/>
<rect x="56.5" y="20.6" width="0.7" height="2.8" fill="#4e160a"/>
<rect x="58.6" y="20.6" width="0.7" height="2.8" fill="#4e160a"/>
<rect x="60.7" y="20.6" width="0.7" height="2.8" fill="#4e160a"/>
<rect x="62.8" y="20.6" width="0.7" height="2.8" fill="#4e160a"/>
<rect x="64.9" y="20.6" width="0.7" height="2.8" fill="#4e160a"/>
<rect x="67.0" y="20.6" width="0.7" height="2.8" fill="#4e160a"/>
<rect x="69.1" y="20.6" width="0.7" height="2.8" fill="#4e160a"/>
<rect x="71.2" y="20.6" width="0.7" height="2.8" fill="#4e160a"/>
<rect x="73.3" y="20.6" width="0.7" height="2.8" fill="#4e160a"/>
<rect x="75.4" y="20.6" width="0.7" height="2.8" fill="#4e160a"/>
<rect x="77.5" y="20.6" width="0.7" height="2.8" fill="#4e160a"/>
<rect x="79.6" y="20.6" width="0.7" height="2.8" fill="#4e160a"/>
<rect x="81.7" y="20.6" width="0.7" height="2.8" fill="#4e160a"/>
<rect x="83.8" y="20.6" width="0.7" height="2.8" fill="#4e160a"/>
<rect x="85.9" y="20.6" width="0.7" height="2.8" fill="#4e160a"/>
<rect x="88.0" y="20.6" width="0.7" height="2.8" fill="#4e160a"/>
<rect x="90.1" y="20.6" width="0.7" height="2.8" fill="#4e160a"/>
<rect x="92.2" y="20.6" width="0.7" height="2.8" fill="#4e160a"/>
<rect x="94.3" y="20.6" width="0.7" height="2.8" fill="#4e160a"/>
<rect x="96.4" y="20.6" width="0.7" height="2.8" fill="#4e160a"/>
<rect x="98.5" y="20.6" width="0.7" height="2.8" fill="#4e160a"/>
<rect x="100.6" y="20.6" width="0.7" height="2.8" fill="#4e160a"/>
<rect x="102.7" y="20.6" width="0.7" height="2.8" fill="#4e160a"/>
<rect x="104.8" y="20.6" width="0.7" height="2.8" fill="#4e160a"/>
<rect x="106.9" y="20.6" width="0.7" height="2.8" fill="#4e160a"/>
<rect x="109.0" y="20.6" width="0.7" height="2.8" fill="#4e160a"/>
<path d="M40.6,10.6 Q43,17.5 50,18.6 L104,18.6 Q111,17.5 112.8,10.6 Q112,20.6 104,21 L50,21 Q42,20.6 40.6,10.6Z" fill="#8e7018"/>
<polygon points="77.8,0.6 79.2,8.5 95,19.2 60.5,19.2 76.4,8.5" fill="#d4ac2c"/>
<polygon points="77.8,4 78.6,9 90,17.5 88,18.5 77.8,10.5 67.5,18.5 65.5,17.5 77,9" fill="#f0d050"/>
<polygon points="77.8,10.2 87.2,19.4 68.4,19.4" fill="#cc2a1c"/>
<polygon points="77.8,13.4 81.6,19.4 74,19.4" fill="#240a08"/>
<rect x="77" y="9.5" width="1.7" height="10" fill="#e04424"/>
<path d="M50,19 L55,15.5 L58,14.2 L62,19Z M105.5,19 L100.5,15.5 L97.5,14.2 L93.5,19Z" fill="#e8dca0"/>
<path d="M58.6,19 L59.4,11 L60.6,9.6 L61.8,11 L62.6,19Z M97,19 L96.2,11 L95,9.6 L93.8,11 L93,19Z" fill="#e4c040"/>
</g></g>
<g filter="url(#b05)">
<circle cx="11.0" cy="77.8" r="1.05" fill="#4a84f4"/>
<circle cx="15.7" cy="77.8" r="1.05" fill="#4a84f4"/>
<circle cx="20.4" cy="78.4" r="1.05" fill="#a060dc"/>
<circle cx="25.1" cy="78.4" r="1.05" fill="#38a8ec"/>
<circle cx="29.8" cy="78.4" r="1.05" fill="#4a84f4"/>
<circle cx="34.5" cy="78.4" r="1.05" fill="#4a84f4"/>
<circle cx="39.2" cy="78.4" r="1.05" fill="#a060dc"/>
<circle cx="43.9" cy="78.4" r="1.05" fill="#38a8ec"/>
<circle cx="48.6" cy="78.4" r="1.05" fill="#4a84f4"/>
<circle cx="53.3" cy="78.4" r="1.05" fill="#4a84f4"/>
<circle cx="58.0" cy="78.4" r="1.05" fill="#a060dc"/>
<circle cx="62.7" cy="78.4" r="1.05" fill="#38a8ec"/>
<circle cx="67.4" cy="78.4" r="1.05" fill="#4a84f4"/>
<circle cx="72.1" cy="78.4" r="1.05" fill="#4a84f4"/>
<circle cx="76.8" cy="78.4" r="1.05" fill="#a060dc"/>
<circle cx="81.5" cy="78.4" r="1.05" fill="#38a8ec"/>
<circle cx="86.2" cy="78.4" r="1.05" fill="#4a84f4"/>
<circle cx="90.9" cy="78.4" r="1.05" fill="#4a84f4"/>
<circle cx="95.6" cy="78.4" r="1.05" fill="#a060dc"/>
<circle cx="100.3" cy="78.4" r="1.05" fill="#38a8ec"/>
<circle cx="105.0" cy="78.4" r="1.05" fill="#4a84f4"/>
<circle cx="109.7" cy="78.4" r="1.05" fill="#4a84f4"/>
<circle cx="114.4" cy="78.4" r="1.05" fill="#a060dc"/>
<circle cx="119.1" cy="78.4" r="1.05" fill="#38a8ec"/>
<circle cx="123.8" cy="78.4" r="1.05" fill="#4a84f4"/>
<circle cx="128.5" cy="78.4" r="1.05" fill="#4a84f4"/>
<circle cx="133.2" cy="78.4" r="1.05" fill="#a060dc"/>
<circle cx="137.9" cy="77.8" r="1.05" fill="#38a8ec"/>
<circle cx="30.5" cy="43.4" r="1.3" fill="#3a8cf0"/>
<circle cx="34.5" cy="44.4" r="1.3" fill="#3a8cf0"/>
<circle cx="39.3" cy="44.8" r="1.3" fill="#3aa0e8"/>
<circle cx="45.0" cy="44.6" r="1.0" fill="#e0c040"/>
<circle cx="49.5" cy="44.8" r="1.0" fill="#e0c040"/>
<circle cx="53.5" cy="45.0" r="1.1" fill="#50b8e0"/>
<circle cx="58.0" cy="45.0" r="1.0" fill="#b0a0e0"/>
<circle cx="63.0" cy="45.0" r="1.0" fill="#e0a040"/>
<circle cx="67.5" cy="45.0" r="1.2" fill="#40a8e8"/>
<circle cx="72.5" cy="45.0" r="1.4" fill="#30a0e8"/>
<circle cx="77.5" cy="45.0" r="1.1" fill="#4a80f0"/>
<circle cx="82.5" cy="45.0" r="1.1" fill="#a060d0"/>
<circle cx="87.0" cy="45.0" r="1.1" fill="#5a7af0"/>
<circle cx="92.0" cy="45.0" r="1.0" fill="#b0a8e0"/>
<circle cx="95.5" cy="45.0" r="1.0" fill="#60c040"/>
<circle cx="99.5" cy="45.0" r="1.1" fill="#50a8e8"/>
<circle cx="104.0" cy="45.0" r="1.2" fill="#38b0d0"/>
<circle cx="108.5" cy="45.0" r="1.1" fill="#a060d0"/>
<circle cx="112.5" cy="44.6" r="1.0" fill="#d8c850"/>
<circle cx="117.0" cy="43.6" r="1.2" fill="#50b0d8"/>
<circle cx="49.5" cy="16.8" r="0.95" fill="#4aa0e8"/>
<circle cx="62.0" cy="19.6" r="0.95" fill="#4aa0e8"/>
<circle cx="66.5" cy="19.8" r="0.95" fill="#4aa0e8"/>
<circle cx="71.0" cy="19.8" r="0.95" fill="#4aa0e8"/>
<circle cx="84.5" cy="19.8" r="0.95" fill="#4aa0e8"/>
<circle cx="93.0" cy="19.6" r="0.95" fill="#4aa0e8"/>
<circle cx="89.0" cy="19.8" r="0.95" fill="#4aa0e8"/>
</g>
<circle cx="52.0" cy="30.5" r="3.0" fill="url(#lamp)"/>
<circle cx="101.0" cy="31.2" r="3.0" fill="url(#lamp)"/>
<circle cx="99.4" cy="38.0" r="2.0" fill="url(#lamp)"/>
<circle cx="54.0" cy="38.0" r="1.8" fill="url(#lamp)"/>
<circle cx="36.5" cy="57.0" r="3.2" fill="url(#lamp)"/>
<circle cx="51.5" cy="55.6" r="3.8" fill="url(#lamp)"/>
<circle cx="100.6" cy="55.6" r="3.8" fill="url(#lamp)"/>
<circle cx="113.5" cy="59.8" r="3.0" fill="url(#lamp)"/>
<circle cx="40.0" cy="59.5" r="2.4" fill="url(#lamp)"/>
<circle cx="110.0" cy="57.0" r="2.2" fill="url(#lamp)"/>
<circle cx="21.0" cy="73.6" r="2.8" fill="url(#lamp)"/>
<circle cx="130.5" cy="73.6" r="2.8" fill="url(#lamp)"/>
<circle cx="40.6" cy="41.0" r="2.4" fill="url(#lamp)"/>
<circle cx="112.4" cy="41.0" r="2.2" fill="url(#lamp)"/>
<circle cx="60.5" cy="13.5" r="2.6" fill="url(#lamp)"/>
<circle cx="95.0" cy="13.5" r="2.6" fill="url(#lamp)"/>
<circle cx="55.0" cy="17.0" r="2.0" fill="url(#lamp)"/>
<circle cx="100.5" cy="17.0" r="2.0" fill="url(#lamp)"/>
<circle cx="66.6" cy="114.6" r="2.8" fill="url(#lamp)"/>
<circle cx="91.4" cy="114.6" r="2.8" fill="url(#lamp)"/>
<circle cx="70.6" cy="116.6" r="1.8" fill="url(#lamp)"/>
<circle cx="87.6" cy="116.6" r="1.8" fill="url(#lamp)"/>
<circle cx="74.0" cy="117.6" r="1.2" fill="url(#lamp)"/>
<circle cx="84.6" cy="117.6" r="1.2" fill="url(#lamp)"/>
<ellipse cx="52" cy="128.5" rx="14" ry="8" fill="url(#glow)"/>
<ellipse cx="108" cy="128" rx="21" ry="7.5" fill="url(#glow)"/>
<ellipse cx="101" cy="127" rx="9" ry="4" fill="#fffbe4" filter="url(#b1)"/>
<ellipse cx="53" cy="127.3" rx="7.5" ry="4.2" fill="#fffbe4" filter="url(#b1)"/>
<ellipse cx="118" cy="128.5" rx="7" ry="3" fill="#ffd840" opacity="0.8" filter="url(#b1)"/>
<path d="M28,136.5 L76,121.3 L77,122.8 L31,138.8Z" fill="#eab05c" filter="url(#b05)"/>
<ellipse cx="45" cy="137" rx="6" ry="3.4" fill="#c8a070" opacity="0.55" filter="url(#b1)"/>
<ellipse cx="76" cy="138" rx="9" ry="8" fill="#c8b08c" opacity="0.35" filter="url(#b2)"/>
<rect x="66" y="124" width="3.4" height="12" fill="#e8a020" opacity="0.5" filter="url(#b1)"/>
<path d="M10,116.3 L60,118.3 L81.5,119.5 L60,121.2 L12,122.3Z" fill="url(#blu)" filter="url(#b05)"/>
<path d="M14,118.6 L70,119.3 L14,120.4Z" fill="#58a8ff" opacity="0.7" filter="url(#b05)"/>
<rect x="59.3" y="116" width="1" height="7" fill="#b8dcff" opacity="0.8" filter="url(#b05)"/>
<g filter="url(#b05)"><circle cx="93" cy="135.4" r="4.9" fill="#3c2c1e"/><circle cx="91.8" cy="134" r="2.4" fill="#5a4630" opacity="0.7"/><circle cx="112.5" cy="135.2" r="4.2" fill="#3a2612"/><ellipse cx="93" cy="141.6" rx="4.2" ry="1.5" fill="#241608"/></g>
</g>
</svg></div>
<h1 class="title">榆林市</h1>
<p class="sub">GPD:7091.44亿元, 人口:363 万人, 高校:4所, 医院:111个, 财政收:5873143万元。</p>
<div class="band"></div>
<div class="tabs"><div class="tab on">GDP</div><div class="tab">人口</div><div class="tab">财政</div><div class="tab">教育</div><div class="tab">医疗</div><div class="tab">交通</div><div class="tab">建设</div><div class="tab">科技</div><div class="tab">外贸</div><div class="tab">房地产</div></div>
<svg class="chart" width="1477" height="778" viewBox="0 0 1477 778">
<g shape-rendering="auto">
<rect x="67.10" y="339.00" width="1.5" height="415.00" fill="rgba(0,0,0,0.1)"/>
<rect x="173.33" y="339.00" width="1.5" height="415.00" fill="rgba(0,0,0,0.1)"/>
<rect x="279.56" y="339.00" width="1.5" height="415.00" fill="rgba(0,0,0,0.1)"/>
<rect x="385.79" y="339.00" width="1.5" height="415.00" fill="rgba(0,0,0,0.1)"/>
<rect x="492.02" y="339.00" width="1.5" height="415.00" fill="rgba(0,0,0,0.1)"/>
<rect x="598.25" y="339.00" width="1.5" height="415.00" fill="rgba(0,0,0,0.1)"/>
<rect x="704.48" y="339.00" width="1.5" height="415.00" fill="rgba(0,0,0,0.1)"/>
<rect x="810.71" y="339.00" width="1.5" height="415.00" fill="rgba(0,0,0,0.1)"/>
<rect x="916.94" y="339.00" width="1.5" height="415.00" fill="rgba(0,0,0,0.1)"/>
<rect x="1023.17" y="339.00" width="1.5" height="415.00" fill="rgba(0,0,0,0.1)"/>
<rect x="1129.40" y="339.00" width="1.5" height="415.00" fill="rgba(0,0,0,0.1)"/>
<rect x="1235.63" y="339.00" width="1.5" height="415.00" fill="rgba(0,0,0,0.1)"/>
<rect x="1341.86" y="339.00" width="1.5" height="415.00" fill="rgba(0,0,0,0.1)"/>
<rect x="1448.09" y="339.00" width="1.5" height="415.00" fill="rgba(0,0,0,0.1)"/>
<rect x="51.50" y="339.00" width="1398.86" height="1.5" fill="rgba(0,0,0,0.1)"/>
<rect x="51.50" y="396.00" width="1398.86" height="1.5" fill="rgba(0,0,0,0.1)"/>
<rect x="51.50" y="453.00" width="1398.86" height="1.5" fill="rgba(0,0,0,0.1)"/>
<rect x="51.50" y="510.00" width="1398.86" height="1.5" fill="rgba(0,0,0,0.1)"/>
<rect x="51.50" y="567.00" width="1398.86" height="1.5" fill="rgba(0,0,0,0.1)"/>
<rect x="51.50" y="624.00" width="1398.86" height="1.5" fill="rgba(0,0,0,0.1)"/>
<rect x="51.50" y="681.00" width="1398.86" height="1.5" fill="rgba(0,0,0,0.1)"/>
<rect x="51.50" y="738.00" width="1398.86" height="1.5" fill="rgba(0,0,0,0.1)"/>
<rect x="67.10" y="339.00" width="1.5" height="400.50" fill="rgba(0,0,0,0.13)"/>
<rect x="67.50" y="738.00" width="1382.86" height="1.5" fill="rgba(0,0,0,0.1)"/>
<path d="M67.50 694.87 C109.99 682.66 130.82 674.85 173.72 664.34 C215.79 654.03 237.12 649.19 279.94 642.81 C322.10 636.54 343.59 635.60 386.16 632.74 C428.57 629.88 450.15 625.97 492.38 628.53 C535.12 631.11 555.91 643.90 598.60 645.59 C640.89 647.26 663.28 645.21 704.82 636.94 C748.26 628.28 768.23 615.61 811.04 603.25 C853.21 591.08 874.33 584.52 917.26 575.63 C959.30 566.92 980.75 562.00 1023.48 559.23 C1065.72 556.50 1091.65 575.15 1129.70 561.89 C1176.62 545.54 1192.19 513.99 1235.92 485.19 C1277.17 458.03 1297.32 441.93 1342.14 422.01 C1382.29 404.17 1405.87 403.28 1448.36 390.79 L1448.36 738.00 L67.50 738.00 Z" fill="rgba(38,156,249,0.4)"/>
<path d="M67.50 694.87 C109.99 682.66 130.82 674.85 173.72 664.34 C215.79 654.03 237.12 649.19 279.94 642.81 C322.10 636.54 343.59 635.60 386.16 632.74 C428.57 629.88 450.15 625.97 492.38 628.53 C535.12 631.11 555.91 643.90 598.60 645.59 C640.89 647.26 663.28 645.21 704.82 636.94 C748.26 628.28 768.23 615.61 811.04 603.25 C853.21 591.08 874.33 584.52 917.26 575.63 C959.30 566.92 980.75 562.00 1023.48 559.23 C1065.72 556.50 1091.65 575.15 1129.70 561.89 C1176.62 545.54 1192.19 513.99 1235.92 485.19 C1277.17 458.03 1297.32 441.93 1342.14 422.01 C1382.29 404.17 1405.87 403.28 1448.36 390.79" fill="none" stroke="#259dfa" stroke-width="1.5"/>
<circle cx="67.50" cy="694.87" r="4.5" fill="rgba(38,156,249,0.4)" stroke="#259dfa" stroke-width="1.5"/>
<circle cx="173.72" cy="664.34" r="4.5" fill="rgba(38,156,249,0.4)" stroke="#259dfa" stroke-width="1.5"/>
<circle cx="279.94" cy="642.81" r="4.5" fill="rgba(38,156,249,0.4)" stroke="#259dfa" stroke-width="1.5"/>
<circle cx="386.16" cy="632.74" r="4.5" fill="rgba(38,156,249,0.4)" stroke="#259dfa" stroke-width="1.5"/>
<circle cx="492.38" cy="628.53" r="4.5" fill="rgba(38,156,249,0.4)" stroke="#259dfa" stroke-width="1.5"/>
<circle cx="598.60" cy="645.59" r="4.5" fill="rgba(38,156,249,0.4)" stroke="#259dfa" stroke-width="1.5"/>
<circle cx="704.82" cy="636.94" r="4.5" fill="rgba(38,156,249,0.4)" stroke="#259dfa" stroke-width="1.5"/>
<circle cx="811.04" cy="603.25" r="4.5" fill="rgba(38,156,249,0.4)" stroke="#259dfa" stroke-width="1.5"/>
<circle cx="917.26" cy="575.63" r="4.5" fill="rgba(38,156,249,0.4)" stroke="#259dfa" stroke-width="1.5"/>
<circle cx="1023.48" cy="559.23" r="4.5" fill="rgba(38,156,249,0.4)" stroke="#259dfa" stroke-width="1.5"/>
<circle cx="1129.70" cy="561.89" r="4.5" fill="rgba(38,156,249,0.4)" stroke="#259dfa" stroke-width="1.5"/>
<circle cx="1235.92" cy="485.19" r="4.5" fill="rgba(38,156,249,0.4)" stroke="#259dfa" stroke-width="1.5"/>
<circle cx="1342.14" cy="422.01" r="4.5" fill="rgba(38,156,249,0.4)" stroke="#259dfa" stroke-width="1.5"/>
<circle cx="1448.66" cy="390.79" r="12.5" fill="#000"/>
</g>
<g font-family="'Liberation Sans','Noto Sans CJK SC',sans-serif" font-size="18" fill="#666">
<text x="52" y="343.95" text-anchor="end">8000</text>
<text x="52" y="400.95" text-anchor="end">7000</text>
<text x="52" y="457.95" text-anchor="end">6000</text>
<text x="52" y="514.95" text-anchor="end">5000</text>
<text x="52" y="571.95" text-anchor="end">4000</text>
<text x="52" y="628.95" text-anchor="end">3000</text>
<text x="52" y="685.95" text-anchor="end">2000</text>
<text x="52" y="742.95" text-anchor="end">1000</text>
<text x="67.20" y="767" text-anchor="middle">2010</text>
<text x="173.42" y="767" text-anchor="middle">2011</text>
<text x="279.64" y="767" text-anchor="middle">2012</text>
<text x="385.86" y="767" text-anchor="middle">2013</text>
<text x="492.08" y="767" text-anchor="middle">2014</text>
<text x="598.30" y="767" text-anchor="middle">2015</text>
<text x="704.52" y="767" text-anchor="middle">2016</text>
<text x="810.74" y="767" text-anchor="middle">2017</text>
<text x="916.96" y="767" text-anchor="middle">2018</text>
<text x="1023.18" y="767" text-anchor="middle">2019</text>
<text x="1129.40" y="767" text-anchor="middle">2020</text>
<text x="1235.62" y="767" text-anchor="middle">2021</text>
<text x="1341.84" y="767" text-anchor="middle">2022</text>
<text x="1448.06" y="767" text-anchor="middle">2023</text>
<rect x="622.5" y="305.9" width="60" height="18" fill="rgba(38,156,249,0.4)" stroke="#259dfa" stroke-width="1.5"/>
<text x="691.5" y="320.8">榆林市<tspan dy="-0.6">GDP</tspan><tspan dy="0.6">走势图</tspan></text>
</g>
<g font-family="'Liberation Sans','Noto Sans CJK SC',sans-serif" font-size="18">
<rect x="1177.40" y="360.00" width="261.00" height="63.00" rx="9" ry="9" fill="rgba(0,0,0,0.8)"/>
<path d="M1438.40 384.00 l7.5 7.5 l-7.5 7.5 Z" fill="rgba(0,0,0,0.8)"/>
<text x="1186.40" y="382.7" fill="#fff" font-weight="bold">2023</text>
<rect x="1186.40" y="395.50" width="18" height="18" fill="#fff"/>
<rect x="1186.40" y="395.50" width="18" height="18" fill="none" stroke="#000" stroke-width="1.5"/>
<rect x="1187.90" y="397.00" width="15" height="15" fill="#000"/>
<text x="1207.40" y="410.3" fill="#fff" stroke="#fff" stroke-width="0.25">榆林市GDP走势图: 7091.44</text>
</g>
</svg>
</body>
</html>
